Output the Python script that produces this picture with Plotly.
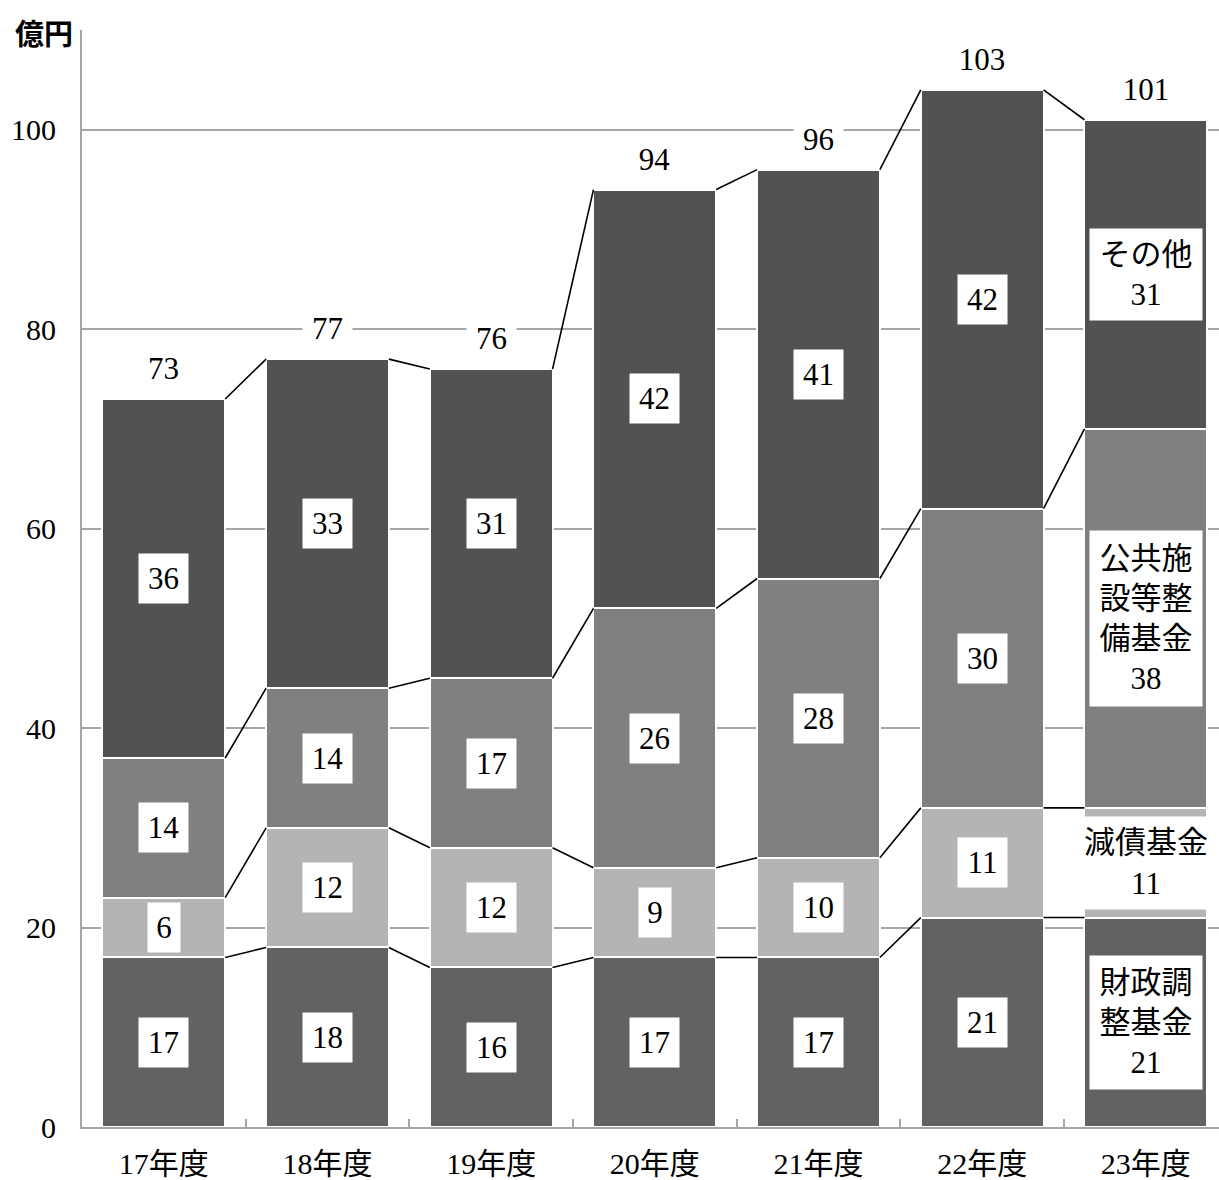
import plotly.graph_objects as go

# 基金残高の推移（億円）
years = ["17年度", "18年度", "19年度", "20年度", "21年度", "22年度", "23年度"]
zaisei = [17, 18, 16, 17, 17, 21, 21]      # 財政調整基金
gensai = [6, 12, 12, 9, 10, 11, 11]        # 減債基金
kokyo = [14, 14, 17, 26, 28, 30, 38]       # 公共施設等整備基金
sonota = [36, 33, 31, 42, 41, 42, 31]      # その他
totals = [73, 77, 76, 94, 96, 103, 101]    # 合計

series = [
    ("財政調整基金", zaisei, "#626262", "財政調<br>整基金"),
    ("減債基金", gensai, "#b4b4b4", "減債基金"),
    ("公共施設等整備基金", kokyo, "#808080", "公共施<br>設等整<br>備基金"),
    ("その他", sonota, "#525252", "その他"),
]

SERIF = "Liberation Serif, Noto Sans CJK JP"
BAR_W = 0.75
xs = list(range(len(years)))
last = len(years) - 1

fig = go.Figure()
for name, vals, color, _ in series:
    fig.add_trace(go.Bar(
        x=xs, y=vals, name=name, width=BAR_W,
        marker=dict(color=color, line=dict(color="white", width=2)),
        hoverinfo="skip",
    ))

# 系列線（各区分の境界を隣の棒とつなぐ）
cum = [0] * len(years)
bounds = []
for _, vals, _, _ in series:
    cum = [c + v for c, v in zip(cum, vals)]
    bounds.append(list(cum))

lx, ly = [], []
for b in bounds:
    for i in range(len(years) - 1):
        lx += [i + BAR_W / 2, i + 1 - BAR_W / 2, None]
        ly += [b[i], b[i + 1], None]
fig.add_trace(go.Scatter(x=lx, y=ly, mode="lines",
                         line=dict(color="black", width=1.6),
                         hoverinfo="skip", showlegend=False))

annotations = []
# 区分ごとの数値ラベル
base = [0] * len(years)
for name, vals, _, label_name in series:
    for i, v in enumerate(vals):
        mid = base[i] + v / 2
        if i == last:
            if name == "減債基金":
                w, h = 146, 92
            else:
                lines = label_name.count("<br>") + 2
                w, h = 112, 42 * lines + 7
            annotations.append(dict(
                x=i, y=mid, text=f"{label_name}<br>{v}", showarrow=False,
                font=dict(family=SERIF, size=31, color="black"),
                bgcolor="white", width=w, height=h, borderpad=0,
            ))
        else:
            annotations.append(dict(
                x=i, y=mid, text=str(v), showarrow=False,
                font=dict(family=SERIF, size=31, color="black"),
                bgcolor="white", width=17 * len(str(v)) + 15, height=49,
                borderpad=0,
            ))
        base[i] += v

# 合計ラベル
for i, t in enumerate(totals):
    annotations.append(dict(
        x=i, y=bounds[-1][i], yshift=31, text=str(t), showarrow=False,
        font=dict(family=SERIF, size=31, color="black"),
        bgcolor="white", width=17 * len(str(t)) + 15, height=36,
        borderpad=0, yanchor="middle",
    ))

# 単位
annotations.append(dict(
    x=0, y=1, xref="paper", yref="paper", xanchor="right", yanchor="middle",
    xshift=-7, yshift=-2, text="億円", showarrow=False,
    font=dict(family="Noto Sans CJK JP", size=29, color="black", weight=600),
))

fig.update_layout(
    barmode="stack",
    width=1219, height=1180,
    margin=dict(l=82, r=0, t=30, b=53, autoexpand=False),
    paper_bgcolor="white", plot_bgcolor="white",
    showlegend=False,
    annotations=annotations,
    xaxis=dict(
        range=[-0.5, 6.447], tickmode="array", tickvals=xs, ticktext=years,
        showgrid=False, zeroline=False, showline=True, automargin=False,
        linecolor="#a6a6a6", linewidth=2, ticks="",
        ticklabelstandoff=9,
        tickfont=dict(family=SERIF, size=30, color="black"),
        minor=dict(tickmode="array",
                   tickvals=[i + 0.5 for i in range(len(years) - 1)],
                   ticks="inside", ticklen=8, tickcolor="#a6a6a6",
                   tickwidth=2, showgrid=False),
    ),
    yaxis=dict(
        range=[0, 110], tickmode="array", tickvals=[0, 20, 40, 60, 80, 100],
        showgrid=True, gridcolor="#a6a6a6", gridwidth=2, zeroline=False,
        showline=True, linecolor="#a6a6a6", linewidth=2, automargin=False,
        ticks="inside", ticklen=8, tickcolor="#a6a6a6", tickwidth=2,
        ticklabelstandoff=18,
        tickfont=dict(family=SERIF, size=30, color="black"),
    ),
)

fig.write_html("out.html")
